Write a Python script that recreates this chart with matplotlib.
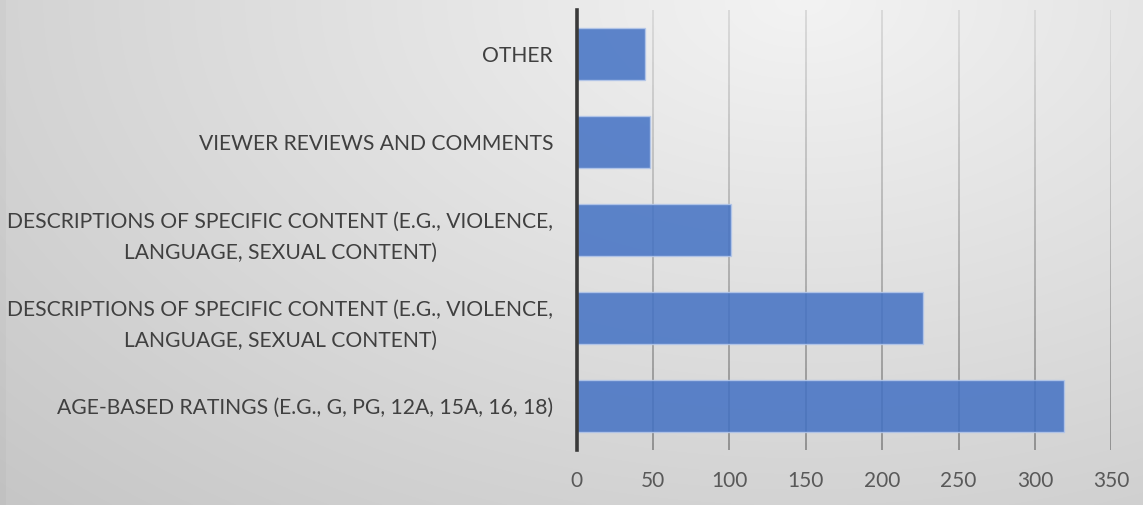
import numpy as np
import matplotlib
matplotlib.use("Agg")
import matplotlib.pyplot as plt
from matplotlib.collections import LineCollection

# Information sources used to judge suitability of content
categories = [
    "AGE-BASED RATINGS (E.G., G, PG, 12A, 15A, 16, 18)",
    "DESCRIPTIONS OF SPECIFIC CONTENT (E.G., VIOLENCE,\nLANGUAGE, SEXUAL CONTENT)",
    "DESCRIPTIONS OF SPECIFIC CONTENT (E.G., VIOLENCE,\nLANGUAGE, SEXUAL CONTENT)",
    "VIEWER REVIEWS AND COMMENTS",
    "OTHER",
]
counts = [319, 227, 101, 48, 45]
x_ticks = [0, 50, 100, 150, 200, 250, 300, 350]

plt.rcParams["font.family"] = ["Lato", "DejaVu Sans"]

W, H = 1143, 505
fig = plt.figure(figsize=(W / 100, H / 100), dpi=100)

# Soft radial backdrop, brightest near the top centre-right
bg = fig.add_axes([0, 0, 1, 1], zorder=-10)
yy, xx = np.mgrid[0:H, 0:W]
r = np.sqrt((xx - 800.0) ** 2 + (1.6 * yy) ** 2)
val = 243 - 45 * (r / r.max())
val[:, :6] -= 5
img = np.dstack([val, val, val]) / 255.0
bg.imshow(img, extent=[0, W, H, 0], aspect="auto", interpolation="bilinear")
bg.set_axis_off()

ax = fig.add_axes([576.7 / W, (H - 450) / H, 534.6 / W, 440 / H])
ax.patch.set_alpha(0)

y = np.arange(len(categories))
ax.set_xlim(0, 350)
ax.set_ylim(-0.5, len(categories) - 0.5)

# Vertical gridlines shaded from light at the top to darker at the bottom
ys = np.linspace(-0.5, len(categories) - 0.5, 60)
for xt in x_ticks[1:]:
    pts = np.array([[xt, v] for v in ys])
    segs = np.stack([pts[:-1], pts[1:]], axis=1)
    t = (ys[:-1] + 0.5) / len(categories)
    g = (0.55 + 0.30 * t)
    cols = np.stack([g, g, g, np.ones_like(g)], axis=1)
    lc = LineCollection(segs, colors=cols, linewidths=1.3, zorder=1)
    ax.add_collection(lc)

ax.barh(y, counts, height=0.6, color="#4472c4", alpha=0.86,
        edgecolor="#b4c7ea", linewidth=1.0, zorder=2)

for s in ["top", "right", "bottom"]:
    ax.spines[s].set_visible(False)
ax.spines["left"].set_color("#3a3a3a")
ax.spines["left"].set_linewidth(2.6)
ax.spines["left"].set_zorder(5)

ax.set_xticks(x_ticks)
ax.set_xticklabels([str(v) for v in x_ticks])
ax.set_yticks(y)
ax.set_yticklabels(categories)
ax.tick_params(axis="x", length=0, pad=15, labelsize=15, labelcolor="#595959")
ax.tick_params(axis="y", length=0, pad=17, labelsize=15.2, labelcolor="#404040")
for lab in ax.get_yticklabels():
    lab.set_multialignment("center")
    lab.set_linespacing(1.7)

fig.savefig("out.png", dpi=100)
